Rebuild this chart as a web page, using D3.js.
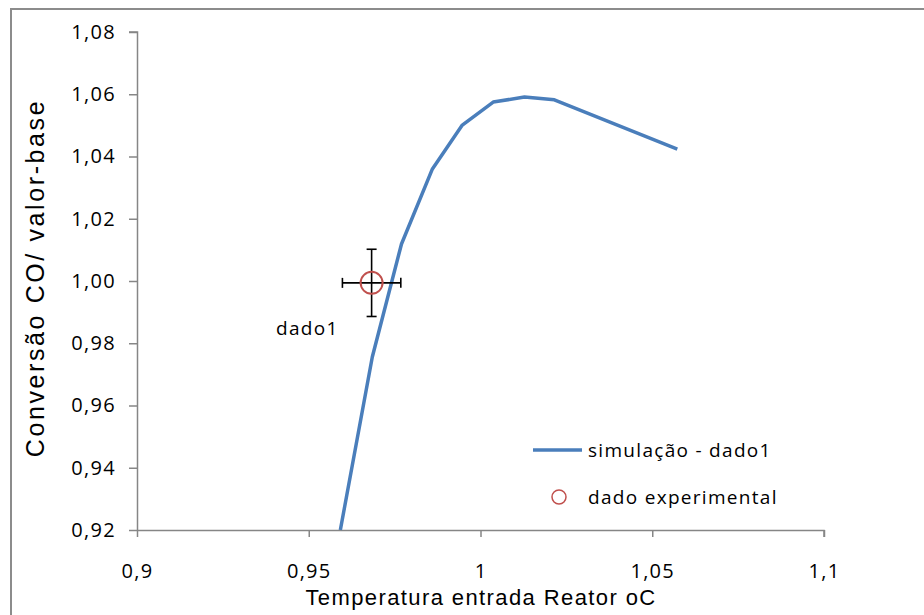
<!DOCTYPE html>
<html>
<head>
<meta charset="utf-8">
<script src="https://cdn.jsdelivr.net/npm/d3@7"></script>
<style>
  body { margin: 0; background: #fff; }
  .tick text { font-family: "Open Sans", sans-serif; font-size: 20px; fill: #000; letter-spacing: 1.3px; }
</style>
</head>
<body>
<svg id="chart" width="924" height="615"></svg>
<script>
// simulation curve
var simX = [0.9592, 0.9685, 0.9770, 0.9860, 0.9947, 1.0037, 1.0128, 1.0215, 1.0573]
var simY = [0.9200, 0.9756, 1.0119, 1.0360, 1.0501, 1.0575, 1.0591, 1.0582, 1.0424]

// experimental point with error bars
var expX = [0.9683]
var expY = [0.9994]
var expErrX = [0.0085]
var expErrY = [0.0108]
var expLabel = ["dado1"]

var xTicks = [0.9, 0.95, 1, 1.05, 1.1]
var yTicks = [0.92, 0.94, 0.96, 0.98, 1.00, 1.02, 1.04, 1.06, 1.08]

var keys = ["simulação - dado1", "dado experimental"]

var svg = d3.select("#chart")

// outer frame
svg.append("rect")
  .attr("x", 11).attr("y", 9)
  .attr("width", 950).attr("height", 650)
  .attr("fill", "none")
  .attr("stroke", "#8c8c8c")
  .attr("stroke-width", 2)

var x = d3.scaleLinear().domain([0.9, 1.1]).range([137, 824])
var y = d3.scaleLinear().domain([0.92, 1.08]).range([530, 32])

var comma = function(d){ return String(d).replace(".", ",") }

var xAxis = svg.append("g")
  .attr("transform", "translate(0,530)")
  .call(d3.axisBottom(x).tickValues(xTicks).tickSize(7).tickPadding(27).tickFormat(comma))
var yAxis = svg.append("g")
  .attr("transform", "translate(137,0)")
  .call(d3.axisLeft(y).tickValues(yTicks).tickSize(8).tickPadding(13).tickFormat(function(d){ return d3.format(".2f")(d).replace(".", ",") }))

svg.selectAll(".domain").attr("stroke", "#868686").attr("stroke-width", 1.5)
svg.selectAll(".tick line").attr("stroke", "#868686").attr("stroke-width", 1.5)
// excel-style axis with no outer overhang
xAxis.select(".domain").attr("d", "M137,0.5H824V7")
yAxis.select(".domain").attr("d", "M-8,32H0.5V530")

// titles
svg.append("text")
  .attr("x", 481).attr("y", 605)
  .attr("text-anchor", "middle")
  .style("font-family", "Liberation Sans, Arial, sans-serif")
  .style("font-size", "22px")
  .style("letter-spacing", "1.4px")
  .text("Temperatura  entrada Reator oC")

svg.append("text")
  .attr("transform", "translate(44,278) rotate(-90)")
  .attr("text-anchor", "middle")
  .style("font-family", "Liberation Sans, Arial, sans-serif")
  .style("font-size", "25px")
  .style("letter-spacing", "2.6px")
  .text("Conversão CO/ valor-base")

// simulation line
var line = d3.line()
  .x(function(d){ return x(d[0]) })
  .y(function(d){ return y(d[1]) })

svg.append("path")
  .datum(d3.zip(simX, simY))
  .attr("d", line)
  .attr("fill", "none")
  .attr("stroke", "#4a7ebb")
  .attr("stroke-width", 3.5)
  .attr("stroke-linejoin", "round")

// error bars
var pts = d3.range(expX.length)
var cap = 5
pts.forEach(function(i){
  var g = svg.append("g").attr("stroke", "#000").attr("stroke-width", 1.6)
  var cx = x(expX[i]), cy = y(expY[i])
  var x0 = x(expX[i] - expErrX[i]), x1 = x(expX[i] + expErrX[i])
  var y0 = y(expY[i] - expErrY[i]), y1 = y(expY[i] + expErrY[i])
  g.append("line").attr("x1", x0).attr("x2", x1).attr("y1", cy).attr("y2", cy)
  g.append("line").attr("x1", x0).attr("x2", x0).attr("y1", cy - cap).attr("y2", cy + cap)
  g.append("line").attr("x1", x1).attr("x2", x1).attr("y1", cy - cap).attr("y2", cy + cap)
  g.append("line").attr("x1", cx).attr("x2", cx).attr("y1", y0).attr("y2", y1)
  g.append("line").attr("x1", cx - cap).attr("x2", cx + cap).attr("y1", y0).attr("y2", y0)
  g.append("line").attr("x1", cx - cap).attr("x2", cx + cap).attr("y1", y1).attr("y2", y1)
})

svg.selectAll("expdots")
  .data(pts)
  .enter()
  .append("circle")
    .attr("cx", function(i){ return x(expX[i]) })
    .attr("cy", function(i){ return y(expY[i]) })
    .attr("r", 11)
    .attr("fill", "none")
    .attr("stroke", "#c0504d")
    .attr("stroke-width", 2)

svg.selectAll("explabels")
  .data(pts)
  .enter()
  .append("text")
    .attr("x", function(i){ return x(expX[i]) - 33 })
    .attr("y", function(i){ return y(expY[i]) + 52 })
    .attr("text-anchor", "end")
    .style("font-family", "Open Sans, sans-serif")
    .style("font-size", "19px")
    .style("letter-spacing", "1.3px")
    .text(function(i){ return expLabel[i] })

// legend
var lg = svg.append("g")
lg.append("line")
  .attr("x1", 533).attr("x2", 582).attr("y1", 450).attr("y2", 450)
  .attr("stroke", "#4a7ebb").attr("stroke-width", 3.5)
lg.append("circle")
  .attr("cx", 559).attr("cy", 497).attr("r", 7)
  .attr("fill", "none").attr("stroke", "#c0504d").attr("stroke-width", 1.5)
lg.selectAll("legtext")
  .data(keys)
  .enter()
  .append("text")
    .attr("x", 588)
    .attr("y", function(d,i){ return 450 + i*47 })
    .attr("dy", "0.35em")
    .style("font-family", "Open Sans, sans-serif")
    .style("font-size", "19px")
    .style("letter-spacing", "1.3px")
    .text(function(d){ return d })
</script>
</body>
</html>
